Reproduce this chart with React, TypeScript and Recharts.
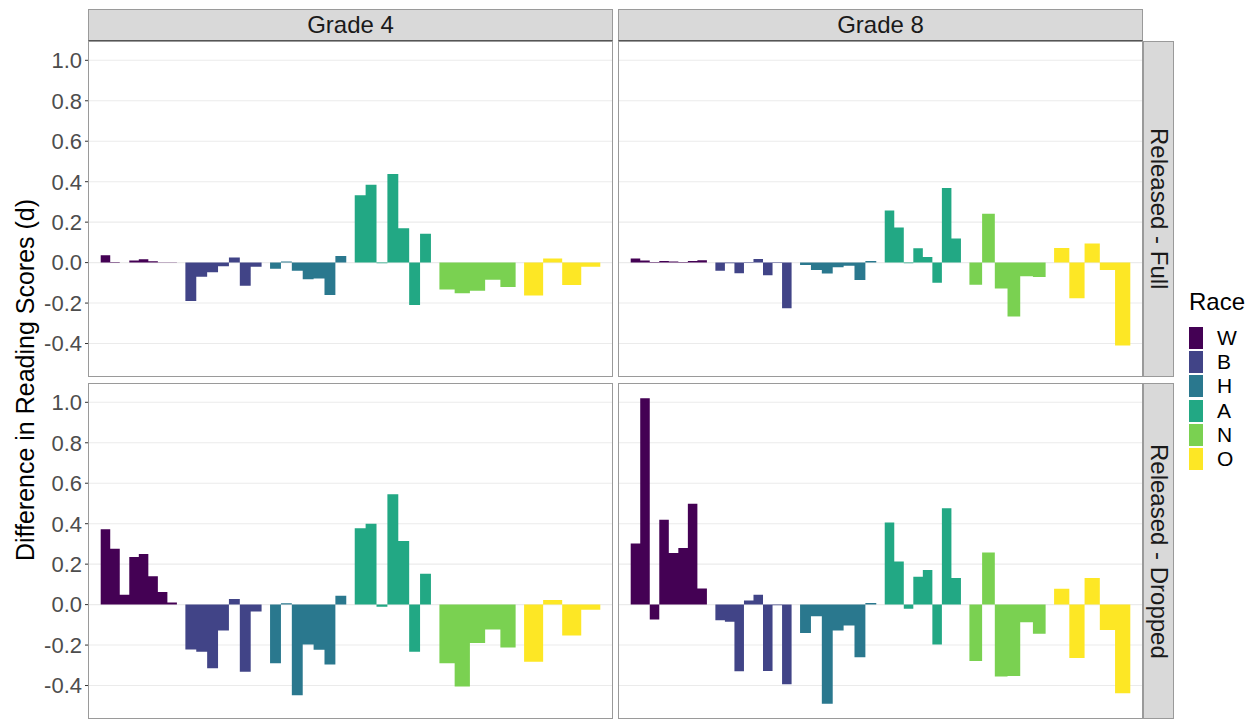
import React from 'react';
import { ComposedChart, Area, XAxis, YAxis, CartesianGrid } from 'recharts';

const RACES = ['W', 'B', 'H', 'A', 'N', 'O'];
const COLORS = ['#440154', '#414487', '#2A788E', '#22A884', '#7AD151', '#FDE725'];
const GRADES = ['Grade 4', 'Grade 8'];
const CONDITIONS = ['Released - Full', 'Released - Dropped'];
const Y_TICKS = [-0.4, -0.2, 0, 0.2, 0.4, 0.6, 0.8, 1.0];

// one list per race (W, B, H, A, N, O), one value per state
const grade4Full = [
  [0.036, 0.003, 0.001, 0.01, 0.016, 0.007, 0.002, 0.002],
  [-0.19, -0.07, -0.048, -0.018, 0.025, -0.115, -0.021],
  [-0.03, 0.005, -0.04, -0.082, -0.079, -0.16, 0.033],
  [0.333, 0.385, -0.003, 0.438, 0.17, -0.21, 0.143],
  [-0.133, -0.152, -0.139, -0.085, -0.12],
  [-0.162, 0.02, -0.111, -0.021],
];
const grade4Dropped = [
  [0.373, 0.276, 0.049, 0.235, 0.25, 0.14, 0.062, 0.011],
  [-0.222, -0.233, -0.314, -0.128, 0.028, -0.332, -0.034],
  [-0.29, 0.007, -0.448, -0.197, -0.223, -0.296, 0.044],
  [0.378, 0.4, -0.011, 0.545, 0.315, -0.233, 0.153],
  [-0.29, -0.405, -0.19, -0.123, -0.212],
  [-0.282, 0.023, -0.153, -0.025],
];
const grade8Full = [
  [0.02, 0.01, 0.003, 0.008, 0.005, 0.003, 0.008, 0.012],
  [-0.04, -0.003, -0.053, 0.003, 0.018, -0.063, -0.002, -0.226],
  [-0.012, -0.036, -0.054, -0.023, -0.015, -0.086, 0.008],
  [0.257, 0.173, -0.003, 0.071, 0.028, -0.099, 0.369, 0.119],
  [-0.11, 0.242, -0.128, -0.267, -0.067, -0.071],
  [0.072, -0.176, 0.094, -0.036, -0.41],
];
const grade8Dropped = [
  [0.302, 1.02, -0.074, 0.42, 0.255, 0.28, 0.498, 0.08],
  [-0.077, -0.085, -0.33, 0.02, 0.049, -0.328, -0.003, -0.394],
  [-0.14, -0.057, -0.49, -0.128, -0.103, -0.26, 0.008],
  [0.406, 0.213, -0.02, 0.138, 0.171, -0.197, 0.476, 0.131],
  [-0.279, 0.258, -0.356, -0.353, -0.087, -0.144],
  [0.079, -0.264, 0.131, -0.126, -0.438],
];

const PANELS = [
  [grade4Full, grade8Full],
  [grade4Dropped, grade8Dropped],
];

// shared y scale, 5% padding like ggplot
const allValues = [grade4Full, grade4Dropped, grade8Full, grade8Dropped].flat(2);
const yLo = Math.min(...allValues);
const yHi = Math.max(...allValues);
const yPad = (yHi - yLo) * 0.05;
const Y_DOMAIN = [yLo - yPad, yHi + yPad];

const FONT = '"Liberation Sans", Arial, Helvetica, sans-serif';
const PANEL_W = 525;
const PANEL_H = 336;
const AXIS_W = 88;
const COL_X = [88, 618];
const ROW_Y = [41, 383];

// dodge: each race gets 0.9 of a unit, split evenly among its states.
// stepAfter areas from the left edges give the touching bars
const buildRows = (groups: number[][]) => {
  const rows: Record<string, number>[] = [];
  groups.forEach((vals, gi) => {
    const key = RACES[gi];
    const w = 0.9 / vals.length;
    const left = gi + 1 - 0.45;
    vals.forEach((v, j) => rows.push({ x: left + j * w, [key]: v }));
    rows.push({ x: left + vals.length * w, [key]: vals[vals.length - 1] });
  });
  return rows;
};

const Panel = ({ groups, showAxis }: { groups: number[][]; showAxis: boolean }) => {
  const axisW = showAxis ? AXIS_W : 0;
  return (
    <ComposedChart
      width={PANEL_W + axisW}
      height={PANEL_H}
      data={buildRows(groups)}
      margin={{ top: 0, right: 0, bottom: 0, left: 0 }}
    >
      <CartesianGrid vertical={false} stroke="#EBEBEB" strokeWidth={1.1} horizontalValues={Y_TICKS} />
      <XAxis type="number" dataKey="x" domain={[0.4, 6.6]} allowDataOverflow hide />
      <YAxis
        type="number"
        domain={Y_DOMAIN}
        allowDataOverflow
        ticks={Y_TICKS}
        interval={0}
        hide={!showAxis}
        width={axisW}
        axisLine={false}
        tickSize={3}
        tickMargin={3}
        tickLine={{ stroke: '#333333' }}
        tick={{ fill: '#4D4D4D', fontSize: 22, fontFamily: FONT }}
        tickFormatter={(v: number) => v.toFixed(1)}
      />
      {RACES.map((r, i) => (
        <Area
          key={r}
          type="stepAfter"
          dataKey={r}
          fill={COLORS[i]}
          fillOpacity={1}
          stroke="none"
          dot={false}
          activeDot={false}
          isAnimationActive={false}
        />
      ))}
    </ComposedChart>
  );
};

const App = () => {
  return (
    <div
      style={{
        position: 'absolute',
        left: 0,
        top: 0,
        width: 1260,
        height: 719,
        overflow: 'hidden',
        background: '#fff',
        fontFamily: FONT,
      }}
    >
      {PANELS.map((row, ri) =>
        row.map((groups, ci) => (
          <React.Fragment key={`${ri}-${ci}`}>
            <div style={{ position: 'absolute', left: ci === 0 ? 0 : COL_X[1], top: ROW_Y[ri] }}>
              <Panel groups={groups} showAxis={ci === 0} />
            </div>
            <div
              style={{
                position: 'absolute',
                left: COL_X[ci],
                top: ROW_Y[ri],
                width: PANEL_W,
                height: PANEL_H,
                border: '1px solid #9A9A9A',
                boxSizing: 'border-box',
                pointerEvents: 'none',
              }}
            />
          </React.Fragment>
        ))
      )}

      {GRADES.map((g, ci) => (
        <div
          key={g}
          style={{
            position: 'absolute',
            left: COL_X[ci],
            top: 9,
            width: PANEL_W,
            height: 32,
            boxSizing: 'border-box',
            background: '#D9D9D9',
            border: '1px solid #9A9A9A',
            borderBottom: '1px solid #555',
            display: 'flex',
            alignItems: 'center',
            justifyContent: 'center',
            fontSize: 24,
            color: '#1A1A1A',
          }}
        >
          {g}
        </div>
      ))}

      {CONDITIONS.map((c, ri) => (
        <div
          key={c}
          style={{
            position: 'absolute',
            left: 1143,
            top: ROW_Y[ri],
            width: 31,
            height: PANEL_H,
            boxSizing: 'border-box',
            background: '#D9D9D9',
            border: '1px solid #9A9A9A',
            display: 'flex',
            alignItems: 'center',
            justifyContent: 'center',
            writingMode: 'vertical-rl',
            fontSize: 24,
            color: '#1A1A1A',
          }}
        >
          {c}
        </div>
      ))}

      <div
        style={{
          position: 'absolute',
          left: 25,
          top: 380,
          transform: 'translate(-50%, -50%) rotate(-90deg)',
          whiteSpace: 'nowrap',
          fontSize: 25,
          color: '#000',
        }}
      >
        Difference in Reading Scores (d)
      </div>

      <div style={{ position: 'absolute', left: 1189, top: 288, fontSize: 24, color: '#000' }}>Race</div>
      {RACES.map((r, i) => (
        <React.Fragment key={r}>
          <div
            style={{
              position: 'absolute',
              left: 1189,
              top: 327 + i * 24.2,
              width: 14,
              height: 22,
              background: COLORS[i],
            }}
          />
          <div
            style={{
              position: 'absolute',
              left: 1217,
              top: 327 + i * 24.2,
              height: 22,
              fontSize: 21,
              lineHeight: '22px',
              color: '#000',
            }}
          >
            {r}
          </div>
        </React.Fragment>
      ))}
    </div>
  );
};

export default App;
